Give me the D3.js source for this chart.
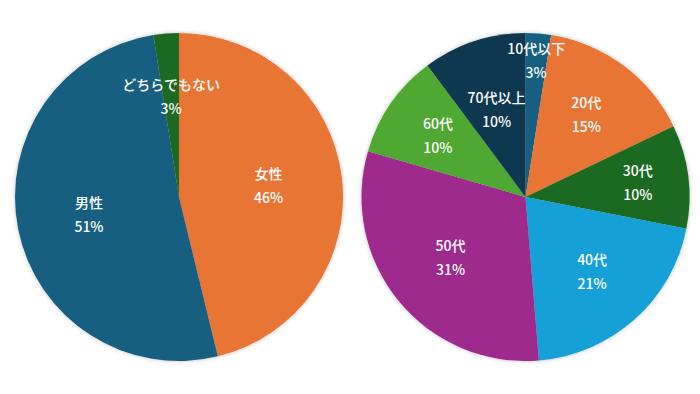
<!DOCTYPE html>
<html>
<head>
<meta charset="utf-8">
<script src="https://cdn.jsdelivr.net/npm/d3@7"></script>
<style>
  body { margin: 0; background: #fff; }
  text { font-family: "Noto Sans CJK JP", "Noto Sans", sans-serif; }
</style>
</head>
<body>
<svg id="chart" width="700" height="394"></svg>
<script>
// gender breakdown (left pie)
var gender_labels = ["女性", "男性", "どちらでもない"];
var gender_values = [46.2, 51.3, 2.5];
var gender_colors = ["#E97436", "#175E80", "#1C6A23"];

// age breakdown (right pie)
var age_labels = ["10代以下", "20代", "30代", "40代", "50代", "60代", "70代以上"];
var age_values = [2.5, 15.4, 10.2, 20.6, 30.8, 10.3, 10.2];
var age_colors = ["#175E80", "#E97436", "#1C6A23", "#13A0D8", "#9E2A8E", "#50A830", "#0F394F"];

// where each label sits along its slice, as a fraction of the radius (layout only)
var gender_label_pos = [0.55, 0.56, 0.61];
var age_label_pos = [0.83, 0.62, 0.69, 0.61, 0.59, 0.65, 0.56];

var svg = d3.select("#chart");

var defs = svg.append("defs");
defs.append("filter")
    .attr("id", "halo")
    .attr("x", "-10%").attr("y", "-10%")
    .attr("width", "120%").attr("height", "120%")
  .append("feDropShadow")
    .attr("dx", 0).attr("dy", 0)
    .attr("stdDeviation", 2)
    .attr("flood-color", "#000")
    .attr("flood-opacity", 0.25);

function draw_pie( cx, cy, r, labels, values, colors, label_pos ){
    var data = labels.map(function(l, i){ return { label: l, value: values[i], color: colors[i], lp: label_pos[i] }; });

    var pie = d3.pie().sort(null).value(function(d){ return d.value; });
    var arc = d3.arc().innerRadius(0).outerRadius(r);

    var g = svg.append("g")
        .attr("transform", "translate(" + cx + "," + cy + ")");

    g.append("g")
        .attr("filter", "url(#halo)")
        .selectAll("path")
        .data(pie(data))
        .enter()
        .append("path")
          .attr("d", arc)
          .attr("fill", function(d){ return d.data.color; });

    var lbl = g.selectAll(".lbl")
        .data(pie(data))
        .enter()
        .append("text")
          .attr("class", "lbl")
          .attr("transform", function(d){
              var lr = r * d.data.lp;
              var c = d3.arc().innerRadius(lr).outerRadius(lr).centroid(d);
              return "translate(" + c + ")";
          })
          .attr("text-anchor", "middle")
          .attr("fill", "#fff")
          .attr("font-size", 14)
          .attr("font-weight", 500);

    lbl.append("tspan")
        .attr("x", 0)
        .attr("y", -7)
        .text(function(d){ return d.data.label; });
    lbl.append("tspan")
        .attr("x", 0)
        .attr("y", 17)
        .text(function(d){ return Math.round(d.data.value) + "%"; });
}

draw_pie(179, 197, 164, gender_labels, gender_values, gender_colors, gender_label_pos);
draw_pie(525.5, 197, 164, age_labels, age_values, age_colors, age_label_pos);
</script>
</body>
</html>
